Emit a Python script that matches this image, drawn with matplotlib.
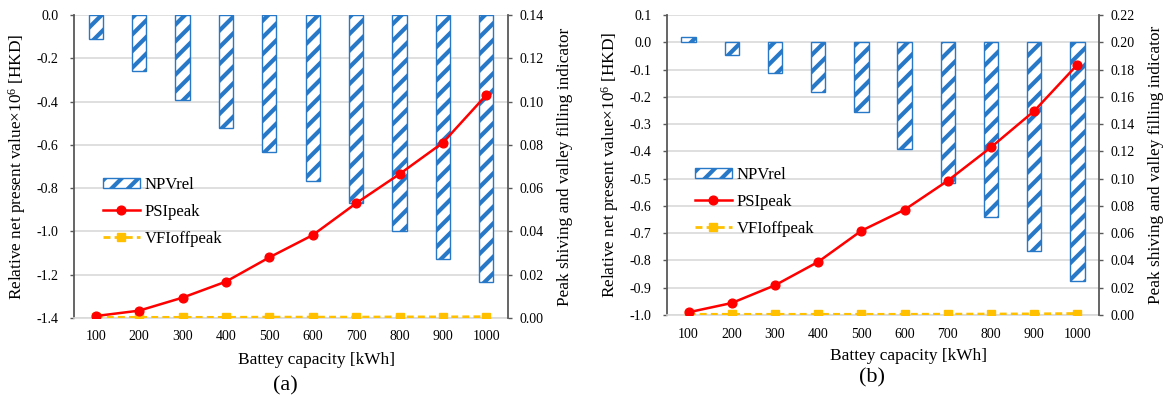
import matplotlib
matplotlib.use("Agg")
import matplotlib.pyplot as plt
import numpy as np

plt.rcParams["font.family"] = ["Liberation Serif", "DejaVu Serif"]
plt.rcParams["mathtext.fontset"] = "custom"
plt.rcParams["mathtext.rm"] = "Liberation Serif"
plt.rcParams["axes.unicode_minus"] = False
plt.rcParams["hatch.linewidth"] = 3.0

# ── data ──────────────────────────────────────────────────────────────────────
capacity = ["100", "200", "300", "400", "500", "600", "700", "800", "900", "1000"]

npv_a = [-0.11, -0.26, -0.395, -0.52, -0.635, -0.766, -0.869, -0.998, -1.127, -1.232]
psi_a = [0.0009, 0.0034, 0.0094, 0.0168, 0.028, 0.0383, 0.053, 0.0665, 0.081, 0.103]
vfi_a = [0.0003, 0.0003, 0.0003, 0.0003, 0.0004, 0.0004, 0.0004, 0.0005, 0.0005, 0.0006]

npv_b = [0.02, -0.047, -0.114, -0.183, -0.256, -0.392, -0.517, -0.639, -0.764, -0.875]
psi_b = [0.002, 0.0088, 0.0218, 0.039, 0.0618, 0.0772, 0.0985, 0.123, 0.1496, 0.1836]
vfi_b = [0.0005, 0.0005, 0.0005, 0.0005, 0.0005, 0.0005, 0.0006, 0.0007, 0.0008, 0.0011]

left_ticks_a = [0.0, -0.2, -0.4, -0.6, -0.8, -1.0, -1.2, -1.4]
right_ticks_a = [0.00, 0.02, 0.04, 0.06, 0.08, 0.10, 0.12, 0.14]
left_ticks_b = [0.1, 0.0, -0.1, -0.2, -0.3, -0.4, -0.5, -0.6, -0.7, -0.8, -0.9, -1.0]
right_ticks_b = [0.00, 0.02, 0.04, 0.06, 0.08, 0.10, 0.12, 0.14, 0.16, 0.18, 0.20, 0.22]

BLUE = "#2878C8"
RED = "#FF0000"
YELLOW = "#FFC000"
GRID = "#D9D9D9"
SPINE = "#595959"

W, H = 1164, 403
fig = plt.figure(figsize=(W / 100, H / 100), dpi=100)


def panel(rect, npv, psi, vfi, lticks, rticks, leg_xy, cap, cap_xy):
    ax = fig.add_axes(rect)
    x = np.arange(len(capacity))
    ax.bar(x, npv, width=0.33, facecolor="white", edgecolor=BLUE,
           linewidth=1.0, hatch="//", label="NPVrel", zorder=2)
    ax.set_xlim(-0.5, len(capacity) - 0.5)
    ax.set_ylim(lticks[-1], lticks[0])
    ax.set_yticks(lticks)
    ax.set_yticklabels(["{:.1f}".format(v) for v in lticks])
    ax.set_xticks(x)
    ax.set_xticklabels(capacity)
    ax.set_axisbelow(True)
    ax.grid(axis="y", color=GRID, linewidth=1.2)
    for s in ["top", "right"]:
        ax.spines[s].set_visible(False)
    ax.spines["bottom"].set_color(GRID)
    ax.spines["bottom"].set_linewidth(1.2)
    ax.spines["left"].set_color(SPINE)
    ax.spines["left"].set_linewidth(1.3)
    ax.tick_params(axis="y", direction="out", length=3, width=1.0,
                   color=SPINE, pad=8, labelsize=10)
    ax.tick_params(axis="x", length=0, pad=9, labelsize=10)
    ax.set_ylabel(r"Relative net present value×10$\mathregular{^6}$ [HKD]",
                  fontsize=12.4, va="center")
    ax.yaxis.set_label_coords(-0.131, 0.5)
    ax.set_xlabel("Battey capacity [kWh]", fontsize=12.4, va="center")
    ax.xaxis.set_label_coords(0.558, -0.137)

    ax2 = ax.twinx()
    ax2.plot(x, vfi, color=YELLOW, linewidth=2.0, dashes=(2.5, 1.5),
             marker="s", markersize=6, label="VFIoffpeak", zorder=3)
    ax2.plot(x, psi, color=RED, linewidth=1.8, marker="o",
             markersize=6.3, label="PSIpeak", zorder=4)
    ax2.set_ylim(rticks[0], rticks[-1])
    ax2.set_yticks(rticks)
    ax2.set_yticklabels(["{:.2f}".format(v) for v in rticks])
    for s in ["top", "left", "bottom"]:
        ax2.spines[s].set_visible(False)
    ax2.spines["right"].set_color(SPINE)
    ax2.spines["right"].set_linewidth(1.3)
    ax2.tick_params(axis="y", direction="out", length=3, width=1.0,
                    color=SPINE, pad=5, labelsize=10)
    ax2.set_ylabel("Peak shiving and valley filling indicator",
                   fontsize=12.4, va="center", rotation=90)
    ax2.yaxis.set_label_coords(1.131, 0.5)

    h1, l1 = ax.get_legend_handles_labels()
    h2, l2 = ax2.get_legend_handles_labels()
    handles = [h1[0], h2[1], h2[0]]
    labels = [l1[0], l2[1], l2[0]]
    ax2.legend(handles, labels, loc="center left", bbox_to_anchor=leg_xy,
               frameon=False, fontsize=12, handlelength=2.2,
               handleheight=0.55, handletextpad=0.3, labelspacing=0.65,
               borderpad=0, borderaxespad=0)

    fig.text(cap_xy[0], cap_xy[1], cap, fontsize=16, ha="center", va="center")
    return ax, ax2


panel([74 / W, 1 - 318 / H, 434 / W, 303 / H], npv_a, psi_a, vfi_a,
      left_ticks_a, right_ticks_a, (0.067, 0.35),
      "(a)", (285 / W, 1 - 386 / H))
panel([667 / W, 1 - 315 / H, 432 / W, 300 / H], npv_b, psi_b, vfi_b,
      left_ticks_b, right_ticks_b, (0.065, 0.377),
      "(b)", (872 / W, 1 - 378 / H))

fig.savefig("out.png", dpi=100)
